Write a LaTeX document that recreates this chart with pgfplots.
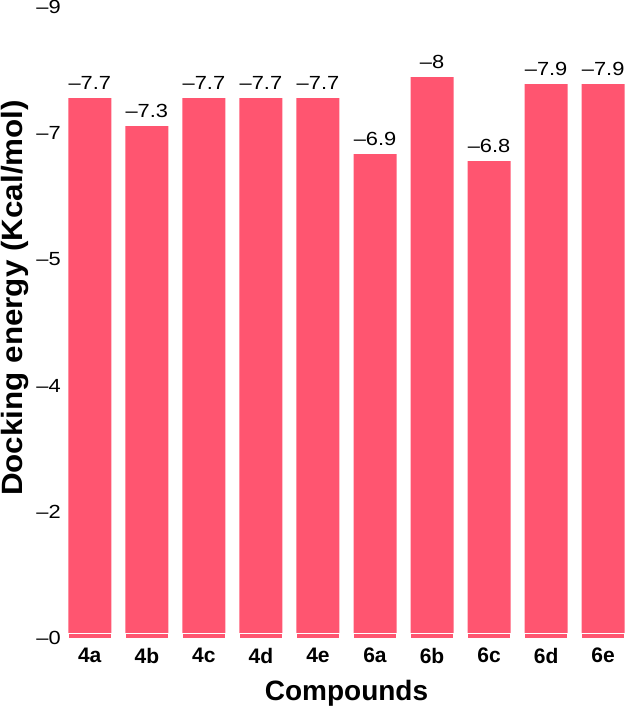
\documentclass[border=0pt]{standalone}
\usepackage{pgfplots}
\usepackage{pgfplotstable}
\pgfplotsset{compat=1.18}
\usepackage{fontspec}
\setmainfont{Liberation Sans}
\newfontfamily\lblfont[FakeStretch=1.15]{Liberation Sans}
\newfontfamily\ylabfont[FakeStretch=1.07]{Liberation Sans}
\definecolor{barpink}{RGB}{255,85,112}

% docking energies (kcal/mol), one row per compound
\pgfplotstableread{
x y lab
0 -7.7 –7.7
1 -7.3 –7.3
2 -7.7 –7.7
3 -7.7 –7.7
4 -7.7 –7.7
5 -6.9 –6.9
6 -8.0 –8
7 -6.8 –6.8
8 -7.9 –7.9
9 -7.9 –7.9
}\docking

\begin{document}
\begin{tikzpicture}
\begin{axis}[
    name=ax,
    scale only axis,
    width=419.25pt, height=473.25pt,
    ybar=0pt, bar width=32.25pt, bar shift=0pt,
    xmin=-0.4, xmax=9.4,
    ymin=-9, ymax=0,
    y dir=reverse,
    enlargelimits=false,
    clip=false,
    axis line style={draw=none},
    major tick length=0pt,
    xtick={0,...,9},
    xticklabels={\textbf{4a},\textbf{4b},\textbf{4c},\textbf{4d},\textbf{4e},\textbf{6a},\textbf{6b},\textbf{6c},\textbf{6d},\textbf{6e}},
    ytick={0,-1.8,-3.6,-5.4,-7.2,-9},
    yticklabels={\lblfont –0,\lblfont –2,\lblfont –4,\lblfont –5,\lblfont –7,\lblfont –9},
    xticklabel style={font=\fontsize{15.75}{18}\selectfont, inner sep=0pt, anchor=north, yshift=-7.5pt},
    yticklabel style={font=\fontsize{14.25}{17}\selectfont, inner sep=0pt, anchor=east, xshift=-4.5pt},
    xlabel={Compounds},
    ylabel={Docking energy (Kcal/mol)},
    xlabel style={font=\fontsize{21}{24}\selectfont\bfseries, at={(rel axis cs:0.5,0)}, anchor=north, inner sep=0pt, yshift=-31.5pt},
    ylabel style={font=\fontsize{22}{26}\selectfont\ylabfont\bfseries, at={(rel axis cs:0,0.539)}, anchor=south, inner sep=0pt, yshift=28.5pt},
    nodes near coords,
    point meta=explicit symbolic,
    nodes near coords style={font=\fontsize{14.25}{17}\selectfont\lblfont, anchor=south, inner sep=0pt, yshift=6pt},
]
\addplot[fill=barpink, draw=none] table[x=x, y=y, meta=lab] {\docking};
\addplot[fill=barpink, draw=white, line width=0.6pt, nodes near coords={}] coordinates {
    (0,-0.06) (1,-0.06) (2,-0.06) (3,-0.06) (4,-0.06)
    (5,-0.06) (6,-0.06) (7,-0.06) (8,-0.06) (9,-0.06)};
\end{axis}
\pgfresetboundingbox
\path[use as bounding box] ([shift={(-50.25pt,-51pt)}]ax.south west) rectangle ([shift={(0pt,5.25pt)}]ax.north east);
\end{tikzpicture}
\end{document}
